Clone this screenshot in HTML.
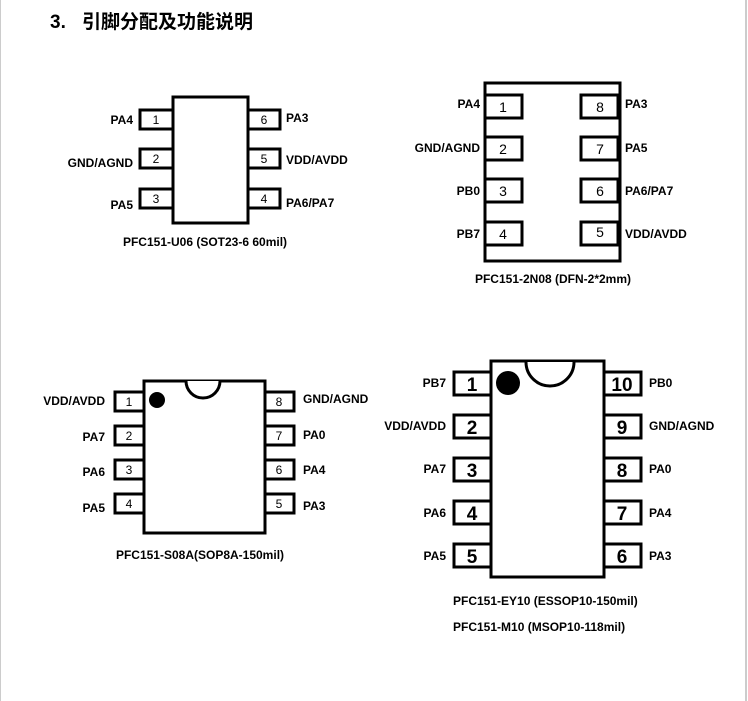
<!DOCTYPE html>
<html><head><meta charset="utf-8"><style>
html,body{margin:0;padding:0;background:#fff;width:748px;height:701px;overflow:hidden}
svg{display:block}
text{font-family:"Liberation Sans",Arial,sans-serif;font-weight:bold;fill:#000}
</style></head><body>
<svg width="748" height="701" viewBox="0 0 748 701" xmlns="http://www.w3.org/2000/svg">
<rect x="0" y="0" width="748" height="701" fill="#fff"/>
<line x1="0.5" y1="0" x2="0.5" y2="701" stroke="#ccc" stroke-width="1"/>
<line x1="746" y1="0" x2="746" y2="701" stroke="#ccc" stroke-width="2"/>
<text x="50" y="28" font-size="19">3.</text>
<text x="82" y="28" font-size="19" style="font-family:'Noto Sans CJK SC',sans-serif">引脚分配及功能说明</text>

<g fill="#fff" stroke="#000" stroke-width="3">
<rect x="173" y="97" width="75" height="126"/>
<rect x="140" y="110" width="33" height="19"/>
<rect x="140" y="149" width="33" height="19"/>
<rect x="140" y="189" width="33" height="19"/>
<rect x="248" y="110" width="32" height="19"/>
<rect x="248" y="149" width="32" height="19"/>
<rect x="248" y="189" width="32" height="19"/>
<rect x="485" y="83" width="135" height="178"/>
<rect x="485" y="95" width="37" height="23"/>
<rect x="485" y="137" width="37" height="23"/>
<rect x="485" y="179" width="37" height="23"/>
<rect x="485" y="222" width="37" height="23"/>
<rect x="581" y="95" width="37" height="23"/>
<rect x="581" y="137" width="37" height="23"/>
<rect x="581" y="179" width="37" height="23"/>
<rect x="581" y="222" width="37" height="23"/>
<rect x="144" y="381" width="121" height="152"/>
<rect x="115" y="392" width="29" height="19"/>
<rect x="115" y="426" width="29" height="19"/>
<rect x="115" y="460" width="29" height="19"/>
<rect x="115" y="494" width="29" height="19"/>
<rect x="265" y="392" width="29" height="19"/>
<rect x="265" y="426" width="29" height="19"/>
<rect x="265" y="460" width="29" height="19"/>
<rect x="265" y="494" width="29" height="19"/>
<rect x="491" y="361" width="113" height="216"/>
<rect x="454" y="372" width="37" height="23"/>
<rect x="454" y="415" width="37" height="23"/>
<rect x="454" y="458" width="37" height="23"/>
<rect x="454" y="501" width="37" height="23"/>
<rect x="454" y="544" width="37" height="23"/>
<rect x="604" y="372" width="37" height="23"/>
<rect x="604" y="415" width="37" height="23"/>
<rect x="604" y="458" width="37" height="23"/>
<rect x="604" y="501" width="37" height="23"/>
<rect x="604" y="544" width="37" height="23"/>
</g>
<path d="M186 381 A17 17 0 0 0 220 381" fill="#fff" stroke="#000" stroke-width="3"/>
<circle cx="157" cy="400" r="8" fill="#000"/>
<path d="M526 362 A24 24 0 0 0 574 362" fill="#fff" stroke="#000" stroke-width="3"/>
<circle cx="508" cy="383" r="12" fill="#000"/>

<g font-size="12">
<g text-anchor="middle" font-weight="normal" style="font-weight:normal">
<text x="156" y="124" style="font-weight:normal">1</text><text x="156" y="163" style="font-weight:normal">2</text><text x="156" y="203" style="font-weight:normal">3</text>
<text x="264" y="124" style="font-weight:normal">6</text><text x="264" y="163" style="font-weight:normal">5</text><text x="264" y="203" style="font-weight:normal">4</text>
</g>
<g text-anchor="end">
<text x="133" y="124">PA4</text><text x="133" y="167">GND/AGND</text><text x="133" y="209">PA5</text>
</g>
<text x="286" y="122">PA3</text><text x="286" y="164">VDD/AVDD</text><text x="286" y="207">PA6/PA7</text>
<text x="205" y="246" text-anchor="middle">PFC151-U06 (SOT23-6 60mil)</text>
<g text-anchor="middle" font-size="14">
<text x="503" y="112" style="font-weight:normal">1</text><text x="503" y="154" style="font-weight:normal">2</text><text x="503" y="196" style="font-weight:normal">3</text><text x="503" y="239" style="font-weight:normal">4</text>
<text x="600" y="112" style="font-weight:normal">8</text><text x="600" y="154" style="font-weight:normal">7</text><text x="600" y="196" style="font-weight:normal">6</text><text x="600" y="237" style="font-weight:normal">5</text>
</g>
<g text-anchor="end">
<text x="480" y="108">PA4</text><text x="480" y="152">GND/AGND</text><text x="480" y="195">PB0</text><text x="480" y="238">PB7</text>
</g>
<text x="625" y="108">PA3</text><text x="625" y="152">PA5</text><text x="625" y="195">PA6/PA7</text><text x="625" y="238">VDD/AVDD</text>
<text x="553" y="283" text-anchor="middle">PFC151-2N08 (DFN-2*2mm)</text>
<g text-anchor="middle">
<text x="129" y="406" style="font-weight:normal">1</text><text x="129" y="440" style="font-weight:normal">2</text><text x="129" y="474" style="font-weight:normal">3</text><text x="129" y="508" style="font-weight:normal">4</text>
<text x="279" y="406" style="font-weight:normal">8</text><text x="279" y="440" style="font-weight:normal">7</text><text x="279" y="474" style="font-weight:normal">6</text><text x="279" y="508" style="font-weight:normal">5</text>
</g>
<g text-anchor="end">
<text x="105" y="405">VDD/AVDD</text><text x="105" y="441">PA7</text><text x="105" y="476">PA6</text><text x="105" y="512">PA5</text>
</g>
<text x="303" y="403">GND/AGND</text><text x="303" y="439">PA0</text><text x="303" y="474">PA4</text><text x="303" y="510">PA3</text>
<text x="200" y="559" text-anchor="middle">PFC151-S08A(SOP8A-150mil)</text>
<g text-anchor="middle" font-size="19">
<text x="472" y="391">1</text><text x="472" y="434">2</text><text x="472" y="477">3</text><text x="472" y="520">4</text><text x="472" y="563">5</text>
<text x="622" y="391">10</text><text x="622" y="434">9</text><text x="622" y="477">8</text><text x="622" y="520">7</text><text x="622" y="563">6</text>
</g>
<g text-anchor="end">
<text x="446" y="387">PB7</text><text x="446" y="430">VDD/AVDD</text><text x="446" y="473">PA7</text><text x="446" y="517">PA6</text><text x="446" y="560">PA5</text>
</g>
<text x="649" y="387">PB0</text><text x="649" y="430">GND/AGND</text><text x="649" y="473">PA0</text><text x="649" y="517">PA4</text><text x="649" y="560">PA3</text>
<text x="453" y="605">PFC151-EY10 (ESSOP10-150mil)</text>
<text x="453" y="631">PFC151-M10 (MSOP10-118mil)</text>
</g>
</svg>
</body></html>
